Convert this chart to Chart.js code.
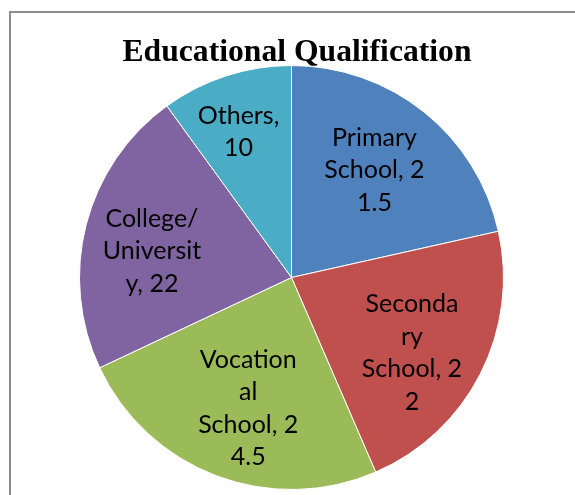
<!DOCTYPE html>
<html>
<head>
<meta charset="utf-8">
<script src="https://cdn.jsdelivr.net/npm/chart.js@4.4.1/dist/chart.umd.min.js"></script>
<style>
  html, body { margin: 0; padding: 0; background: #fff; }
  #wrap  { position: relative; width: 575px; height: 495px; overflow: hidden; }
  #frame { position: absolute; left: 9px; top: 11px; width: 600px; height: 520px;
           border-left: 2px solid #8c8c8c; border-top: 2px solid #8c8c8c; }
  canvas { position: absolute; left: 0; top: 0; }
</style>
</head>
<body>
<div id="wrap">
  <div id="frame"></div>
  <canvas id="chart" width="575" height="495"></canvas>
</div>
<script>
const TITLE      = 'Educational Qualification';
const categories = ['Primary School', 'Secondary School', 'Vocational School', 'College/ University', 'Others'];
const values     = [21.5, 22, 24.5, 22, 10];
const colors     = ['#4F81BD', '#C0504D', '#9BBB59', '#8064A2', '#4BACC6'];
// data labels as Excel wrapped them inside the slices
const labelLines = [
  ['Primary', 'School, 2', '1.5'],
  ['Seconda', 'ry', 'School, 2', '2'],
  ['Vocation', 'al', 'School, 2', '4.5'],
  ['College/', 'Universit', 'y, 22'],
  ['Others,', '10']
];

const sliceLabels = {
  id: 'sliceLabels',
  afterDatasetsDraw(chart, args, opts) {
    const ctx = chart.ctx;
    const arcs = chart.getDatasetMeta(0).data;
    ctx.save();
    ctx.font = opts.font;
    ctx.fillStyle = '#000';
    ctx.textAlign = 'center';
    ctx.textBaseline = 'middle';
    arcs.forEach((arc, i) => {
      const p = arc.getProps(['x', 'y', 'startAngle', 'endAngle', 'outerRadius'], true);
      const mid = (p.startAngle + p.endAngle) / 2 + opts.shift[i] * Math.PI / 180;
      const r = p.outerRadius * opts.radius[i];
      const cx = p.x + Math.cos(mid) * r;
      const cy = p.y + Math.sin(mid) * r;
      const lines = labelLines[i];
      const top = cy - (lines.length - 1) * opts.lineHeight / 2;
      lines.forEach((t, k) => ctx.fillText(t, cx, top + k * opts.lineHeight));
    });
    ctx.restore();
  }
};

const chartTitle = {
  id: 'chartTitle',
  afterDraw(chart, args, opts) {
    const ctx = chart.ctx;
    ctx.save();
    ctx.font = opts.font;
    ctx.fillStyle = '#000';
    ctx.textAlign = 'center';
    ctx.textBaseline = 'alphabetic';
    const w = ctx.measureText(opts.text).width;
    ctx.translate(opts.x, opts.y);
    ctx.scale(opts.width / w, 1);
    ctx.fillText(opts.text, 0, 0);
    ctx.restore();
  }
};

new Chart(document.getElementById('chart'), {
  type: 'pie',
  data: {
    labels: categories,
    datasets: [{
      data: values,
      backgroundColor: colors,
      borderColor: '#ffffff',
      borderWidth: 1
    }]
  },
  options: {
    responsive: false,
    animation: false,
    layout: { padding: { left: 79, right: 71, top: 65, bottom: 5 } },
    plugins: {
      legend: { display: false },
      tooltip: { enabled: false },
      title: { display: false },
      sliceLabels: {
        font: '25px Lato',
        lineHeight: 32.5,
        radius: [0.64, 0.67, 0.65, 0.67, 0.73],
        shift: [-1, 5, -2.4, -3.7, -2]
      },
      chartTitle: {
        text: TITLE,
        font: 'bold 31px "Liberation Serif"',
        x: 297, y: 61, width: 349
      }
    }
  },
  plugins: [sliceLabels, chartTitle]
});
</script>
</body>
</html>
